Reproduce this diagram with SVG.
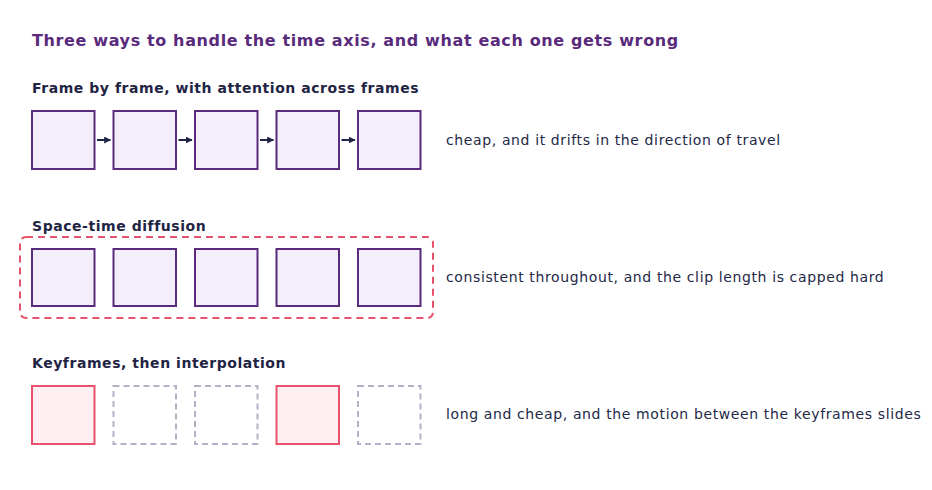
<svg xmlns="http://www.w3.org/2000/svg" width="932" height="490" viewBox="0 0 932 490">
<defs>
<style>
.title{font-family:"DejaVu Sans",sans-serif;font-weight:bold;font-size:16px;letter-spacing:0.63px;fill:#5a2a7d}
.sec{font-family:"DejaVu Sans",sans-serif;font-weight:bold;font-size:14px;letter-spacing:0.55px;fill:#1f2444}
.note{font-family:"DejaVu Sans",sans-serif;font-size:14px;letter-spacing:0.62px;fill:#232846}
.fr{fill:#f3effa;stroke:#5a2a7d;stroke-width:2}
.key{fill:#ffeff2;stroke:#e8526c;stroke-width:2}
.gap{fill:#ffffff;stroke:#b3b1c6;stroke-width:2;stroke-dasharray:6 4}
.grp{fill:none;stroke:#e8526c;stroke-width:2;stroke-dasharray:7 5}
.arr{stroke:#1f2444;stroke-width:2;fill:none}
</style>
<marker id="ah" viewBox="0 0 10 10" refX="9" refY="5" markerWidth="3.5" markerHeight="3.5" orient="auto" markerUnits="strokeWidth">
<path d="M0,0 L10,5 L0,10 z" fill="#1f2444"/>
</marker>
</defs>
<rect width="932" height="490" fill="#ffffff"/>
<text class="title" x="32" y="46">Three ways to handle the time axis, and what each one gets wrong</text>

<g id="row1">
<text class="sec" x="32" y="93">Frame by frame, with attention across frames</text>
<g id="r1f1"><rect class="fr" x="32" y="111" width="62.5" height="58"/></g>
<g id="r1f2"><rect class="fr" x="113.5" y="111" width="62.5" height="58"/></g>
<g id="r1f3"><rect class="fr" x="195" y="111" width="62.5" height="58"/></g>
<g id="r1f4"><rect class="fr" x="276.5" y="111" width="62.5" height="58"/></g>
<g id="r1f5"><rect class="fr" x="358" y="111" width="62.5" height="58"/></g>
<text class="note" x="446" y="145">cheap, and it drifts in the direction of travel</text>
</g>

<g id="connectors">
<line class="arr" x1="97" y1="140" x2="110.5" y2="140" marker-end="url(#ah)"/>
<line class="arr" x1="178.5" y1="140" x2="192" y2="140" marker-end="url(#ah)"/>
<line class="arr" x1="260" y1="140" x2="273.5" y2="140" marker-end="url(#ah)"/>
<line class="arr" x1="341.5" y1="140" x2="355" y2="140" marker-end="url(#ah)"/>
</g>

<g id="row2">
<text class="sec" x="32" y="231">Space-time diffusion</text>
<g id="r2group"><rect class="grp" x="20" y="237" width="413" height="81" rx="6"/></g>
<g id="r2f1"><rect class="fr" x="32" y="249" width="62.5" height="57"/></g>
<g id="r2f2"><rect class="fr" x="113.5" y="249" width="62.5" height="57"/></g>
<g id="r2f3"><rect class="fr" x="195" y="249" width="62.5" height="57"/></g>
<g id="r2f4"><rect class="fr" x="276.5" y="249" width="62.5" height="57"/></g>
<g id="r2f5"><rect class="fr" x="358" y="249" width="62.5" height="57"/></g>
<text class="note" x="446" y="282">consistent throughout, and the clip length is capped hard</text>
</g>

<g id="row3">
<text class="sec" x="32" y="368">Keyframes, then interpolation</text>
<g id="r3f1"><rect class="key" x="32" y="386" width="62.5" height="58"/></g>
<g id="r3f2"><rect class="gap" x="113.5" y="386" width="62.5" height="58"/></g>
<g id="r3f3"><rect class="gap" x="195" y="386" width="62.5" height="58"/></g>
<g id="r3f4"><rect class="key" x="276.5" y="386" width="62.5" height="58"/></g>
<g id="r3f5"><rect class="gap" x="358" y="386" width="62.5" height="58"/></g>
<text class="note" x="446" y="419">long and cheap, and the motion between the keyframes slides</text>
</g>
</svg>
